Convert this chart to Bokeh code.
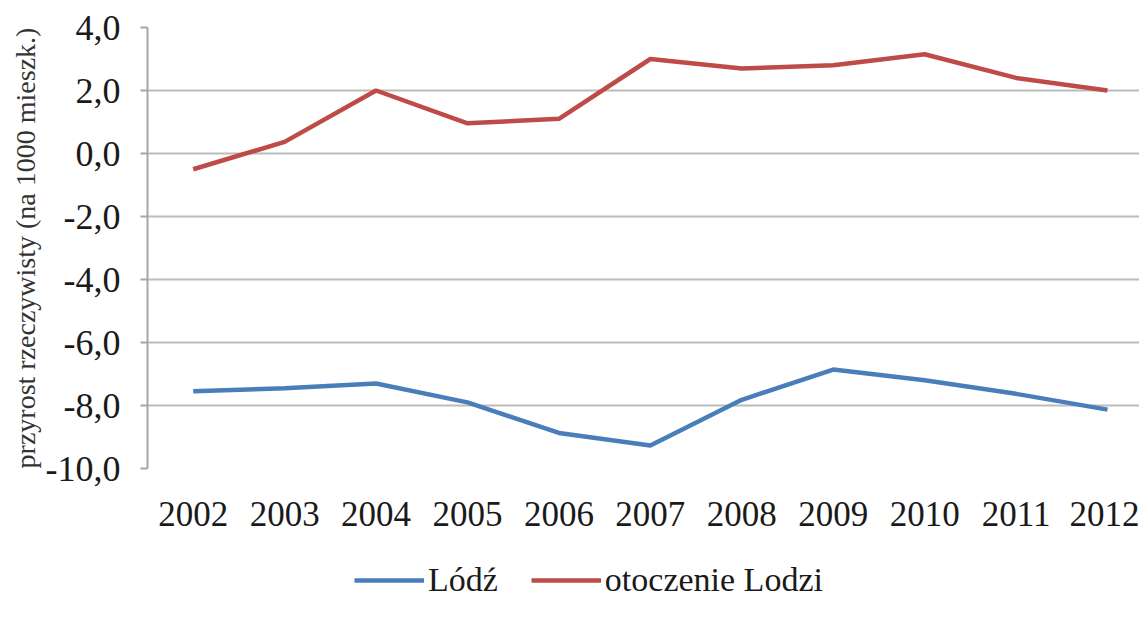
from bokeh.plotting import figure
from bokeh.layouts import column
from bokeh.models import (Legend, LegendItem, FixedTicker, CustomJSTickFormatter, Range1d)
from bokeh.embed import file_html
from bokeh.resources import INLINE

years = [2002, 2003, 2004, 2005, 2006, 2007, 2008, 2009, 2010, 2011, 2012]
lodz = [-7.55, -7.45, -7.3, -7.9, -8.87, -9.27, -7.82, -6.86, -7.2, -7.63, -8.13]
otoczenie = [-0.5, 0.37, 2.0, 0.96, 1.1, 3.0, 2.7, 2.8, 3.15, 2.4, 2.0]
y_ticks = [-10, -8, -6, -4, -2, 0, 2, 4]
series_names = ["Lódź", "otoczenie Lodzi"]
colors = ["#4A7EBB", "#BE4B48"]

FONT = "Liberation Serif"

p = figure(width=1139, height=548, output_backend="svg", toolbar_location=None,
           x_range=Range1d(2001.5, 2012.35), y_range=Range1d(-10, 4))
p.min_border_top = 27
p.min_border_left = 147
p.min_border_right = 0
p.min_border_bottom = 80
p.outline_line_color = None
p.background_fill_color = "white"
p.border_fill_color = "white"

p.line(years, lodz, line_color=colors[0], line_width=4.5)
p.line(years, otoczenie, line_color=colors[1], line_width=4.5)

p.xgrid.visible = False
p.ygrid.ticker = FixedTicker(ticks=y_ticks)
p.ygrid.grid_line_color = "#bcbcbc"
p.ygrid.grid_line_width = 2

xa = p.xaxis[0]
xa.ticker = FixedTicker(ticks=years)
xa.formatter = CustomJSTickFormatter(code="return String(Math.round(tick));")
xa.axis_line_color = None
xa.major_tick_line_color = None
xa.minor_tick_line_color = None
xa.major_tick_out = 6
xa.major_label_standoff = 27
xa.major_label_text_font = FONT
xa.major_label_text_font_size = "35px"
xa.major_label_text_color = "#1a1a1a"

ya = p.yaxis[0]
ya.ticker = FixedTicker(ticks=y_ticks)
ya.formatter = CustomJSTickFormatter(code="return tick.toFixed(1).replace('.', ',');")
ya.axis_line_color = "#a6a6a6"
ya.axis_line_width = 2
ya.major_tick_line_color = "#a6a6a6"
ya.major_tick_line_width = 2
ya.major_tick_out = 7
ya.major_tick_in = 0
ya.minor_tick_line_color = None
ya.major_label_standoff = 20
ya.major_label_text_font = FONT
ya.major_label_text_font_size = "36px"
ya.major_label_text_color = "#1a1a1a"
ya.axis_label = "przyrost rzeczywisty (na 1000 mieszk.)"
ya.axis_label_text_font = FONT
ya.axis_label_text_font_size = "28px"
ya.axis_label_text_font_style = "normal"
ya.axis_label_text_color = "#333333"
ya.axis_label_standoff = 2

# legend strip below the chart
lf = figure(width=1139, height=55, output_backend="svg", toolbar_location=None,
            x_range=Range1d(0, 1), y_range=Range1d(0, 1))
lf.min_border = 0
lf.outline_line_color = None
lf.axis.visible = False
lf.grid.visible = False
lr1 = lf.line([-5, -4], [-5, -4], line_color=colors[0], line_width=4.5)
lr2 = lf.line([-5, -4], [-5, -4], line_color=colors[1], line_width=4.5)

legend = Legend(items=[LegendItem(label=series_names[0], renderers=[lr1]),
                       LegendItem(label=series_names[1], renderers=[lr2])],
                orientation="horizontal", location=(207, 4))
legend.label_text_font = FONT
legend.label_text_font_size = "34px"
legend.label_text_color = "#1a1a1a"
legend.glyph_width = 70
legend.label_standoff = 4
legend.spacing = 33
legend.padding = 0
legend.margin = 0
legend.border_line_color = None
legend.background_fill_alpha = 0
lf.add_layout(legend, "center")

layout = column(p, lf, spacing=0)
open("out.html", "w").write(file_html(layout, INLINE))
